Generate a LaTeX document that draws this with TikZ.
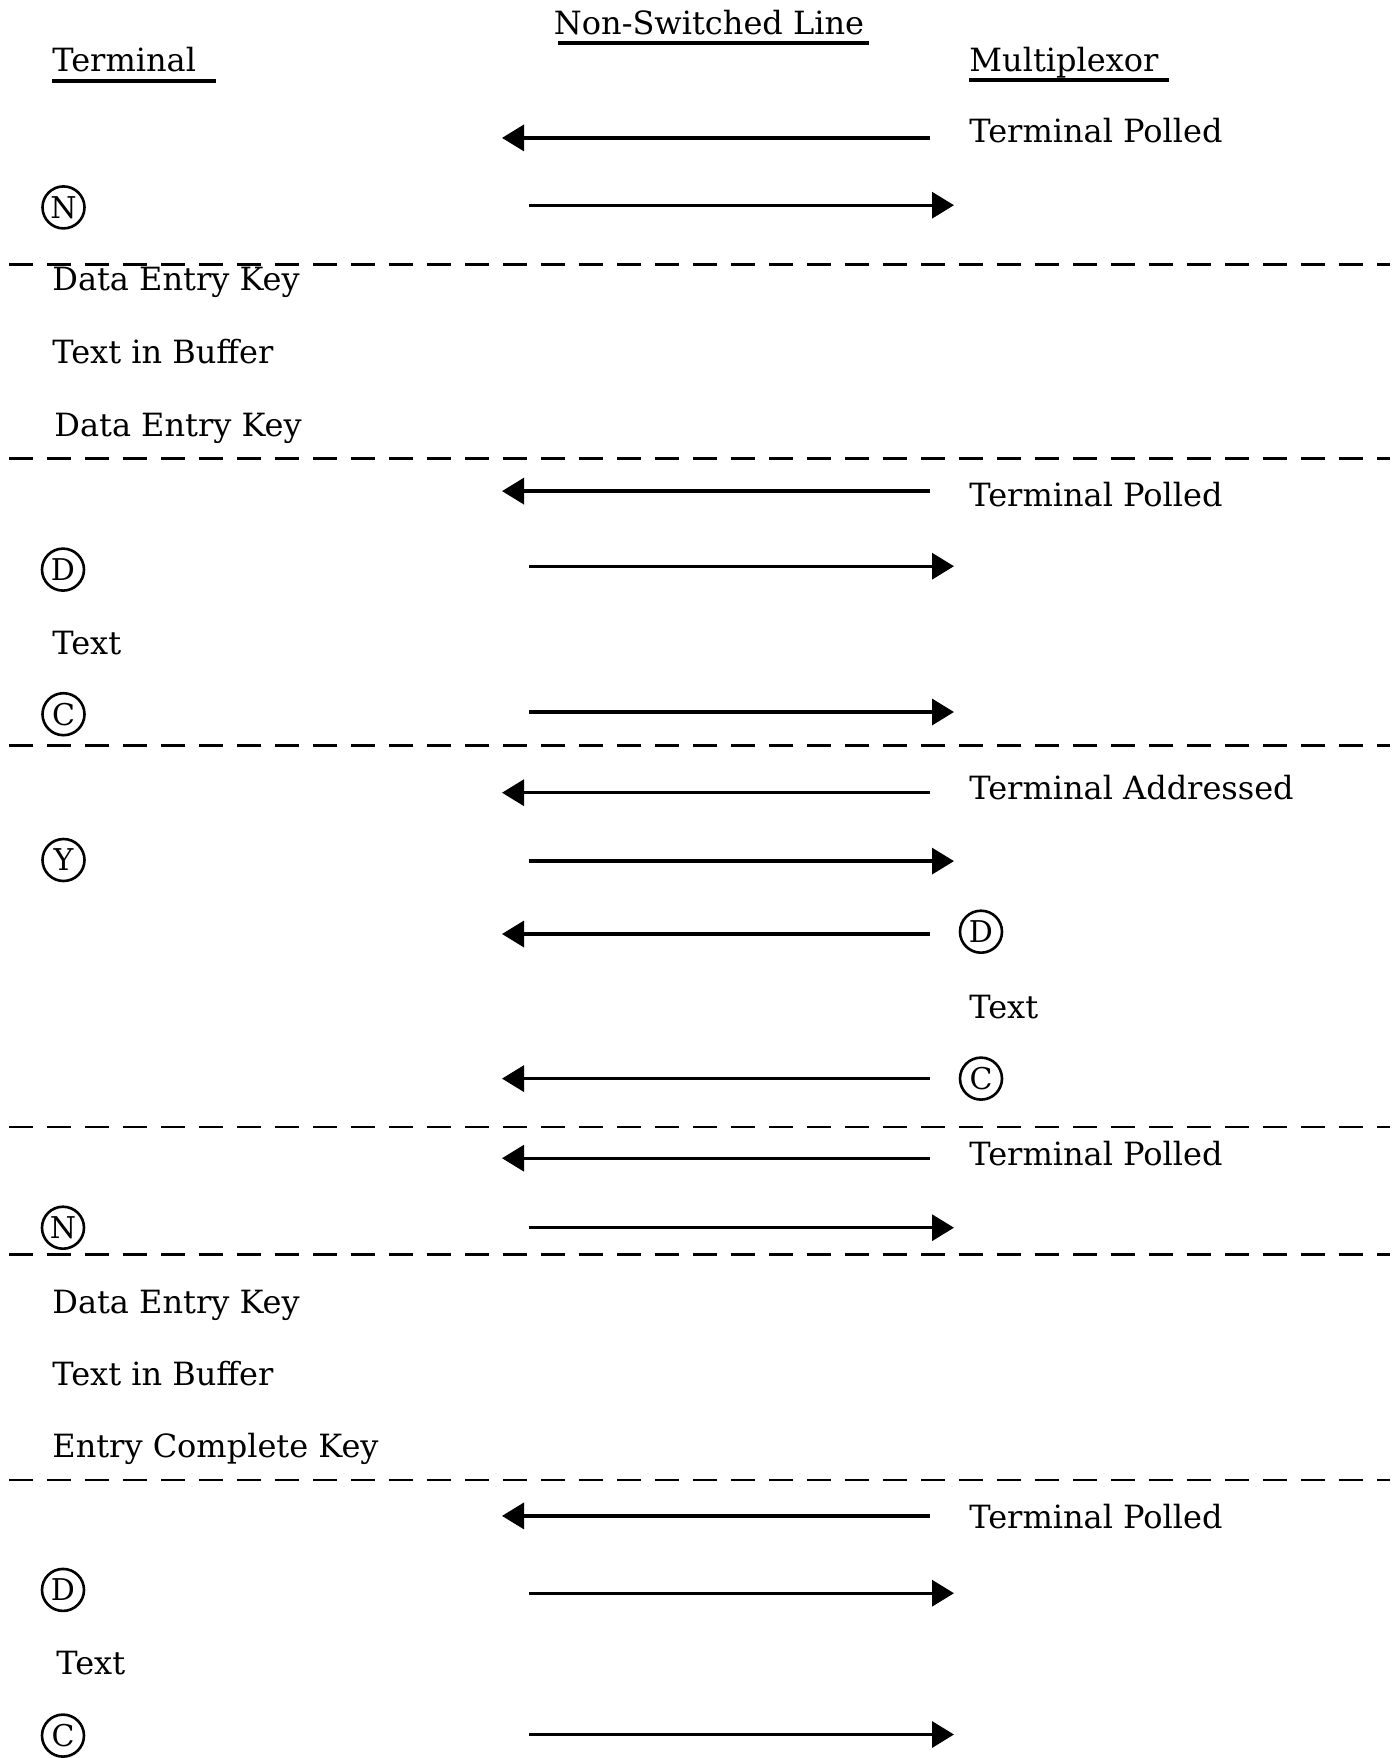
\documentclass[tikz,border=0pt]{standalone}
\usepackage{fontspec}
\setmainfont{DejaVu Serif}
\usetikzlibrary{arrows.meta}

\begin{document}
\begin{tikzpicture}[x=0.5pt,y=-0.5pt,
  lbl/.style={anchor=base west, inner sep=0pt, font=\fontsize{16}{19}\selectfont},
  head/.style={anchor=base, inner sep=0pt, font=\fontsize{16}{19}\selectfont},
  ring/.style={circle, draw, line width=1.3pt, minimum size=21pt, inner sep=0pt,
               font=\fontsize{15}{17}\selectfont},
  msg/.style={line width=1.7pt, -{Triangle[length=11pt,width=13pt]}},
  rule/.style={line width=1.6pt},
  sep/.style={line width=1.3pt, dash pattern=on 12pt off 7pt}]

\fill[white] (0,0) rectangle (1397,1758);
\useasboundingbox (0,0) rectangle (1397,1758);

% ---- column headings
\node[head] (hline) at (709,34) {Non-Switched Line};
\node[lbl] (hterm) at (52,71) {Terminal};
\node[lbl] (hmux) at (969,71) {Multiplexor};
\coordinate (u1a) at (558,43);  \coordinate (u1b) at (869,43);
\coordinate (u2a) at (52,81);   \coordinate (u2b) at (216,81);
\coordinate (u3a) at (969,80);  \coordinate (u3b) at (1169,80);
\draw[rule] (u1a) -- (u1b);
\draw[rule] (u2a) -- (u2b);
\draw[rule] (u3a) -- (u3b);

% ---- section separators
\foreach \i/\yy in {1/264.6, 2/458.6, 3/745.6, 4/1126.8, 5/1254.6, 6/1480} {
  \coordinate (sl\i) at (9,\yy);
  \coordinate (sr\i) at (1390,\yy);
  \draw[sep] (sl\i) -- (sr\i);
}

% ---- multiplexor side labels
\node[lbl] (mp1) at (969,142.8) {Terminal Polled};
\node[lbl] (mp2) at (969,506) {Terminal Polled};
\node[lbl] (ma3) at (969,799.8) {Terminal Addressed};
\node[ring] (md3) at (981,931.7) {D};
\node[lbl] (mt3) at (969,1018.4) {Text};
\node[ring] (mc3) at (981,1078.6) {C};
\node[lbl] (mp4) at (969,1165.3) {Terminal Polled};
\node[lbl] (mp6) at (969,1528.6) {Terminal Polled};

% ---- terminal side labels
\node[ring] (tn1) at (63.5,207.4) {N};
\node[lbl] (tk1) at (52,290.8) {Data Entry Key};
\node[lbl] (tb1) at (52,363.7) {Text in Buffer};
\node[lbl] (tk2) at (54,436.5) {Data Entry Key};
\node[ring] (td2) at (63,569.6) {D};
\node[lbl] (tt2) at (52,654) {Text};
\node[ring] (tc2) at (63.5,714.2) {C};
\node[ring] (ty3) at (63.5,860) {Y};
\node[ring] (tn4) at (63,1227.7) {N};
\node[lbl] (tk5) at (52,1313.3) {Data Entry Key};
\node[lbl] (tb5) at (52,1385.1) {Text in Buffer};
\node[lbl] (te5) at (52,1457.9) {Entry Complete Key};
\node[ring] (td6) at (63,1589.9) {D};
\node[lbl] (tt6) at (56,1674.3) {Text};
\node[ring] (tc6) at (63,1735.6) {C};

% ---- line messages: multiplexor to terminal (leftward)
\foreach \i/\yy in {1/137.9, 2/491.1, 3/792.7, 4/934, 5/1078.6, 6/1158.2, 7/1515.9} {
  \coordinate (lm\i) at (930,\yy);
  \coordinate (lt\i) at (502,\yy);
  \draw[msg] (lm\i) -- (lt\i);
}

% ---- line messages: terminal to multiplexor (rightward)
\foreach \i/\yy in {1/205.2, 2/566.2, 3/712, 4/861.1, 5/1227.7, 6/1593.2, 7/1734.5} {
  \coordinate (rt\i) at (529,\yy);
  \coordinate (rm\i) at (954,\yy);
  \draw[msg] (rt\i) -- (rm\i);
}
\end{tikzpicture}
\end{document}
